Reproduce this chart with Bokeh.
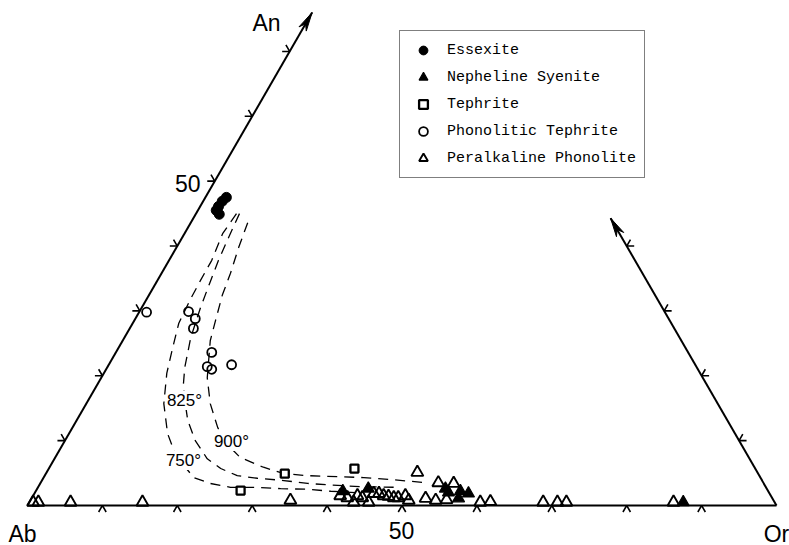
import math
from bokeh.plotting import figure
from bokeh.models import Range1d, Label, Legend, LegendItem
from bokeh.embed import file_html
from bokeh.resources import INLINE

# ---------------- data: compositions in percent (An, Or; Ab = 100 - An - Or)
essexite_an = [47.5, 46.9, 46.1, 45.5, 44.9]
essexite_or = [2.8, 2.55, 2.45, 2.45, 3.15]

neph_syenite_an = [2.2, 2.6, 2.6, 2.0, 1.1, 2.2, 1.85, 0.5]
neph_syenite_or = [41.0, 44.2, 54.5, 55.2, 57.0, 56.7, 57.95, 87.3]

tephrite_an = [2.3, 4.9, 5.7]
tephrite_or = [27.3, 31.9, 40.8]

phon_tephrite_an = [29.8, 29.9, 28.8, 27.3, 23.6, 21.4, 21.0, 21.7]
phon_tephrite_or = [1.0, 6.55, 8.0, 8.5, 12.8, 13.3, 14.1, 16.4]

peralk_phonolite_an = [0.5, 0.5, 0.5, 0.5, 0.8, 1.5, 1.2, 0.5, 1.5, 1.2, 0.5, 1.85,
                       1.85, 1.5, 1.4, 1.2, 1.2, 1.5, 0.8, 5.1, 1.1, 0.8, 0.9, 3.5,
                       3.4, 0.5, 0.6, 0.5, 0.5, 0.5, 0.5]
peralk_phonolite_or = [0.5, 1.2, 5.5, 15.1, 34.7, 41.0, 42.1, 43.3, 43.3, 44.1, 45.3, 45.3,
                       46.0, 46.8, 47.5, 48.3, 48.9, 49.7, 50.5, 49.5, 52.6, 54.1, 55.5, 53.1,
                       55.2, 60.2, 61.5, 68.6, 70.5, 71.7, 86.0]

# isotherms (dashed)
iso750_an = [45.0, 41.9, 37.8, 34.7, 31.9, 28.1, 24.4, 20.4, 15.7, 11.1, 7.7, 4.3,
             3.4, 2.8, 2.8, 2.6, 2.5, 2.2, 2.0]
iso750_or = [5.4, 5.1, 5.7, 5.75, 5.85, 6.15, 7.2, 8.4, 10.35, 13.15, 15.95, 20.05,
             22.7, 25.7, 29.3, 32.5, 36.15, 39.4, 42.8]
iso825_an = [45.0, 41.2, 37.8, 34.2, 30.5, 25.9, 21.3, 18.5, 15.4, 13.1, 10.0, 7.2,
             5.7, 4.6, 4.2, 3.85, 3.4, 3.2, 2.9, 2.8]
iso825_or = [5.8, 6.2, 6.6, 7.2, 7.85, 8.85, 10.35, 11.55, 13.4, 14.85, 17.4, 20.4,
             22.95, 25.7, 28.6, 32.3, 35.7, 38.45, 43.05, 48.4]
iso900_an = [43.6, 39.8, 35.8, 32.4, 28.5, 25.4, 19.7, 15.7, 12.0, 9.25, 7.4, 5.9,
             4.9, 4.6, 4.5, 4.3, 4.0, 3.5]
iso900_or = [7.6, 8.3, 9.2, 9.8, 10.85, 11.7, 14.15, 16.55, 19.4, 22.2, 24.7, 28.55,
             31.85, 35.1, 37.8, 42.75, 46.5, 51.65]

bottom_ticks_or = [10, 20, 30, 40, 50, 60, 70, 80, 90]
left_ticks_an = [10, 20, 30, 40, 50, 60, 70]
right_ticks_an = [10, 20, 30, 40]
left_axis_end_an = 76.0
right_axis_end_an = 44.3

series_labels = ["Essexite", "Nepheline Syenite", "Tephrite",
                 "Phonolitic Tephrite", "Peralkaline Phonolite"]
isotherm_labels = ["750°", "825°", "900°"]

S3 = math.sqrt(3.0)


def tern(an, orr):
    xs = [o + a / 2.0 for a, o in zip(an, orr)]
    ys = [a * S3 / 2.0 for a in an]
    return xs, ys


# ---------------- figure (1 data unit = 7.49 px)
W, H = 789, 545
PX = 7.49
x0 = -27.0 / PX
y1 = 505.0 / PX
p = figure(width=W, height=H, output_backend="svg", toolbar_location=None,
           x_axis_type=None, y_axis_type=None, min_border=0,
           x_range=Range1d(x0, x0 + W / PX), y_range=Range1d(y1 - H / PX, y1))
p.outline_line_color = None
p.background_fill_color = "white"
p.border_fill_color = "white"


def px(xp, yp):
    """figure pixel -> data"""
    return x0 + xp / PX, y1 - yp / PX


FONT = "Liberation Sans"

# ---------------- triangle edges
lx, ly = tern([0, left_axis_end_an], [0, 0])
rx, ry = tern([0, right_axis_end_an], [100, 100 - right_axis_end_an])
p.line([0, 100], [0, 0], line_color="black", line_width=2)
p.line(lx, ly, line_color="black", line_width=2)
p.line(rx, ry, line_color="black", line_width=2)


def head(xa, ya, xb, yb):
    dx, dy = xb - xa, yb - ya
    d = math.hypot(dx, dy)
    ux, uy = dx / d, dy / d
    nx, ny = -uy, ux
    L, Wd, N = 19 / PX, 4.2 / PX, 13 / PX
    return ([xb, xb - L * ux + Wd * nx, xb - N * ux, xb - L * ux - Wd * nx],
            [yb, yb - L * uy + Wd * ny, yb - N * uy, yb - L * uy - Wd * ny])


hx, hy = head(lx[0], ly[0], lx[1], ly[1])
p.patch(hx, hy, fill_color="black", line_color="black", line_width=1)
hx, hy = head(rx[0], ry[0], rx[1], ry[1])
p.patch(hx, hy, fill_color="black", line_color="black", line_width=1)

# ---------------- chevron ticks
LEG = 7.5 / PX
txs, tys = [], []


def chevron(x, y, a1, a2):
    r1, r2 = math.radians(a1), math.radians(a2)
    txs.append([x + LEG * math.cos(r1), x, x + LEG * math.cos(r2)])
    tys.append([y + LEG * math.sin(r1), y, y + LEG * math.sin(r2)])


bx, by = tern([0] * len(bottom_ticks_or), bottom_ticks_or)
for x, y in zip(bx, by):
    chevron(x, y, 240, 300)
lxs, lys = tern(left_ticks_an, [0] * len(left_ticks_an))
for x, y in zip(lxs, lys):
    chevron(x, y, 180, 120)
rxs, rys = tern(right_ticks_an, [100 - a for a in right_ticks_an])
for x, y in zip(rxs, rys):
    chevron(x, y, 0, 60)
p.multi_line(txs, tys, line_color="black", line_width=1.6)

# ---------------- isotherms
for an, orr in [(iso750_an, iso750_or), (iso825_an, iso825_or), (iso900_an, iso900_or)]:
    xs, ys = tern(an, orr)
    p.line(xs, ys, line_color="black", line_width=1.3, line_dash="10 7")

for txt, (xp, yp) in zip(isotherm_labels, [(183, 460), (184, 400), (231, 441)]):
    xd, yd = px(xp, yp)
    p.add_layout(Label(x=xd, y=yd, text=txt, text_font=FONT, text_font_size="17px",
                       text_align="center", text_baseline="middle",
                       background_fill_color="white", text_color="black"))

# ---------------- data points
xs, ys = tern(essexite_an, essexite_or)
r_ess = p.scatter(xs, ys, marker="circle", size=10, fill_color="black", line_color="black")
xs, ys = tern(neph_syenite_an, neph_syenite_or)
r_neph = p.scatter(xs, ys, marker="triangle", size=12, fill_color="black", line_color="black",
                   line_width=1.2)
xs, ys = tern(tephrite_an, tephrite_or)
r_teph = p.scatter(xs, ys, marker="square", size=8, fill_color="white", line_color="black",
                   line_width=2.3)
xs, ys = tern(phon_tephrite_an, phon_tephrite_or)
r_pt = p.scatter(xs, ys, marker="circle", size=9, fill_color=None, line_color="black",
                 line_width=1.8)
xs, ys = tern(peralk_phonolite_an, peralk_phonolite_or)
r_pp = p.scatter(xs, ys, marker="triangle", size=12, fill_color=None, line_color="black",
                 line_width=1.9)

# ---------------- corner and tick labels
for txt, (xp, yp), al in [("An", (266, 22), "center"),
                          ("Ab", (22, 533), "center"),
                          ("Or", (776, 533), "center"),
                          ("50", (401, 530), "center"),
                          ("50", (200, 183), "right")]:
    xd, yd = px(xp, yp)
    p.add_layout(Label(x=xd, y=yd, text=txt, text_font=FONT, text_font_size="23px",
                       text_align=al, text_baseline="middle", text_color="black"))

# ---------------- legend
legend = Legend(items=[LegendItem(label=l, renderers=[r]) for l, r in
                       zip(series_labels, [r_ess, r_neph, r_teph, r_pt, r_pp])],
                location=(399, 367), label_text_font="Liberation Mono",
                label_text_font_size="15px", label_text_color="black",
                border_line_color="black", border_line_width=1.5, padding=8,
                spacing=5, glyph_height=22, glyph_width=30, label_standoff=9,
                label_height=22, margin=0,
                background_fill_color="white", background_fill_alpha=1.0)
p.add_layout(legend)

open("out.html", "w").write(file_html(p, INLINE))
